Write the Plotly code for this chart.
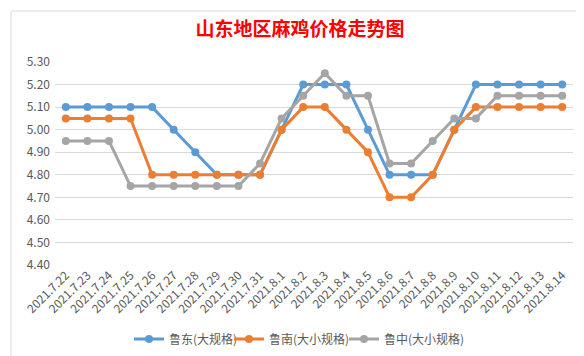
import plotly.graph_objects as go

dates = ["2021.7.22", "2021.7.23", "2021.7.24", "2021.7.25", "2021.7.26", "2021.7.27",
         "2021.7.28", "2021.7.29", "2021.7.30", "2021.7.31", "2021.8.1", "2021.8.2",
         "2021.8.3", "2021.8.4", "2021.8.5", "2021.8.6", "2021.8.7", "2021.8.8",
         "2021.8.9", "2021.8.10", "2021.8.11", "2021.8.12", "2021.8.13", "2021.8.14"]

ludong = [5.10, 5.10, 5.10, 5.10, 5.10, 5.00, 4.90, 4.80, 4.80, 4.80, 5.00, 5.20,
          5.20, 5.20, 5.00, 4.80, 4.80, 4.80, 5.00, 5.20, 5.20, 5.20, 5.20, 5.20]
lunan = [5.05, 5.05, 5.05, 5.05, 4.80, 4.80, 4.80, 4.80, 4.80, 4.80, 5.00, 5.10,
         5.10, 5.00, 4.90, 4.70, 4.70, 4.80, 5.00, 5.10, 5.10, 5.10, 5.10, 5.10]
luzhong = [4.95, 4.95, 4.95, 4.75, 4.75, 4.75, 4.75, 4.75, 4.75, 4.85, 5.05, 5.15,
           5.25, 5.15, 5.15, 4.85, 4.85, 4.95, 5.05, 5.05, 5.15, 5.15, 5.15, 5.15]

names = ["鲁东(大规格)", "鲁南(大小规格)", "鲁中(大小规格)"]
colors = ["#5B9BD5", "#ED7D31", "#A5A5A5"]
ytickvals = [4.40, 4.50, 4.60, 4.70, 4.80, 4.90, 5.00, 5.10, 5.20, 5.30]

W, H = 584, 356
L, R, T, B = 47, 19, 54, 99
pw, ph = W - L - R, H - T - B

def px_x(x):
    return (x - L) / pw

def px_y(y):
    return (H - B - y) / ph

legend_ids = ["legend", "legend2", "legend3"]
legend_left_px = [121, 221, 336]

fig = go.Figure()
for name, vals, col, lg in zip(names, [ludong, lunan, luzhong], colors, legend_ids):
    fig.add_trace(go.Scatter(
        x=list(range(len(dates))), y=vals, name=name, mode="lines+markers",
        line=dict(color=col, width=3), marker=dict(color=col, size=8),
        legend=lg,
    ))

legend_common = dict(orientation="h", xanchor="left", y=px_y(331), yanchor="middle",
                     font=dict(size=12, color="#595959"), itemwidth=30,
                     bgcolor="rgba(0,0,0,0)")
legends = {}
for lg, lx in zip(legend_ids, legend_left_px):
    legends[lg] = dict(x=px_x(lx), **legend_common)

fig.update_layout(
    width=W, height=H,
    margin=dict(l=L, r=R, t=T, b=B, autoexpand=False),
    paper_bgcolor="white", plot_bgcolor="white",
    font=dict(family="Noto Sans CJK SC, Noto Sans, sans-serif", color="#595959", size=12),
    title=dict(text="<b>山东地区麻鸡价格走势图</b>", x=0.5, xanchor="center",
               y=1 - 21 / H, yanchor="middle",
               font=dict(size=19, color="#FF0000", family="Noto Sans CJK SC")),
    showlegend=True,
    xaxis=dict(range=[-0.5, len(dates) - 0.5], tickmode="array", automargin=False,
               tickvals=list(range(len(dates))), ticktext=dates, tickangle=-45,
               showgrid=False, zeroline=False, showline=False, ticks="",
               tickfont=dict(size=12, color="#595959")),
    yaxis=dict(range=[4.40, 5.30], tickmode="array", tickvals=ytickvals, automargin=False,
               ticktext=[f"{v:.2f}" for v in ytickvals], ticklabelstandoff=4,
               showgrid=True, gridcolor="#D9D9D9", gridwidth=1, zeroline=False,
               showline=False, ticks="", tickfont=dict(size=12, color="#595959")),
    shapes=[dict(type="rect", xref="paper", yref="paper",
                 x0=px_x(3), x1=px_x(577), y0=px_y(352), y1=px_y(3),
                 line=dict(color="#D9D9D9", width=1), layer="below")],
    **legends,
)

fig.write_html("out.html")
